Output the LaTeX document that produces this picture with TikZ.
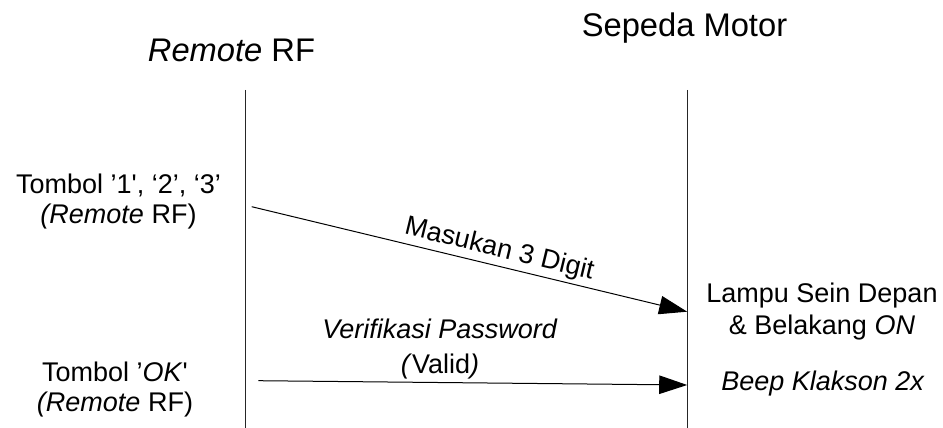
\documentclass[tikz,border=0pt]{standalone}
\usepackage{fontspec}
\setmainfont{Liberation Sans}
\usetikzlibrary{arrows.meta}

\tikzset{
  title/.style={font=\fontsize{32.7}{36}\selectfont, inner sep=0pt, anchor=base},
  label/.style={font=\fontsize{27}{30}\selectfont, inner sep=0pt, anchor=base, align=center},
  lifeline/.style={line width=1pt, black!85},
  msg/.style={line width=1pt, -{Triangle[length=28pt,width=18.5pt]}},
}

\begin{document}
\begin{tikzpicture}[x=1pt,y=-1pt]
  \useasboundingbox (0,0) rectangle (943,428);

  % participants
  \node[title] (remote) at (231.5,61.7) {\textit{Remote} RF};
  \node[title] (motor)  at (684.5,36.7) {Sepeda Motor};

  % lifelines
  \coordinate (rtop) at (245.5,90);
  \coordinate (rbot) at (245.5,428);
  \coordinate (mtop) at (687.7,90);
  \coordinate (mbot) at (687.7,428);
  \draw[lifeline] (rtop) -- (rbot);
  \draw[lifeline] (mtop) -- (mbot);

  % message end points
  \coordinate (m1s) at (251.7,206.7);
  \coordinate (m1e) at (687.2,311.7);
  \coordinate (m2s) at (258.3,380.7);
  \coordinate (m2e) at (687.2,385);

  % messages
  \draw[msg] (m1s) -- node[pos=0.56, above, sloped, inner sep=3pt,
      font=\fontsize{27}{30}\selectfont] (digits) {Masukan 3 Digit} (m1e);
  \draw[msg] (m2s) -- (m2e);

  % actions on the remote side (anchored at the baseline of the last line)
  \node[label] (btn123) at (118.5,223.3)
    {Tombol ’1\textquotesingle, ‘2’, ‘3’\\\textit{(Remote} RF)};
  \node[label] (btnok) at (115,411.7)
    {Tombol ’\textit{OK}\textquotesingle\\\textit{(Remote} RF)};

  % verification label on the second message
  \node[label, font=\fontsize{27}{35}\selectfont] (verif) at (440,373.3)
    {\textit{Verifikasi Password}\\\textit{(}Valid\textit{)}};

  % responses on the motorcycle side
  \node[label, font=\fontsize{27}{31.3}\selectfont] (lamp) at (822,334)
    {Lampu Sein Depan\\\& Belakang \textit{ON}};
  \node[label] (beep) at (823,390) {\textit{Beep Klakson 2x}};
\end{tikzpicture}
\end{document}
